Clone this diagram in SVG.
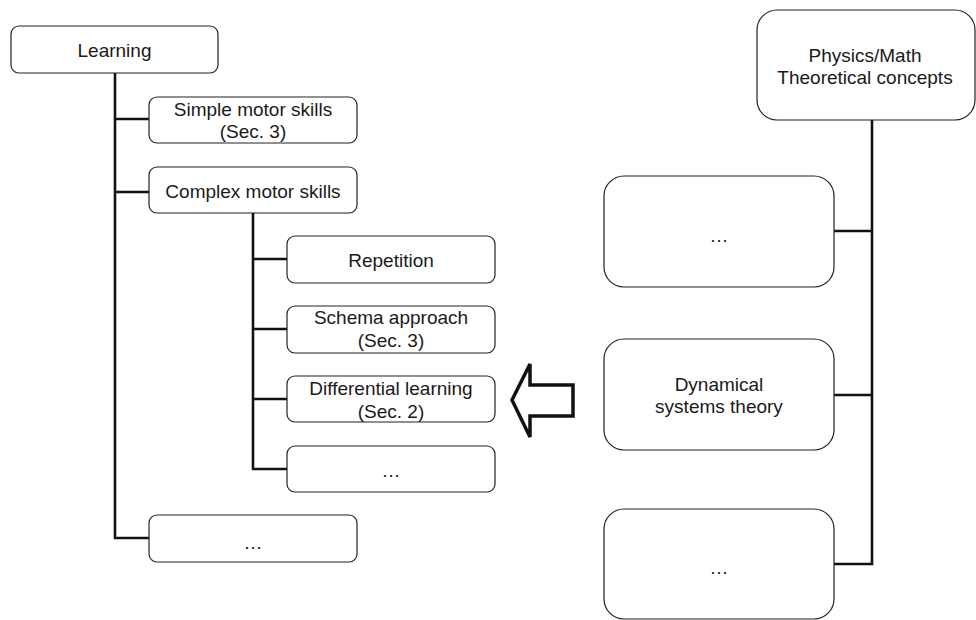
<svg xmlns="http://www.w3.org/2000/svg" width="976" height="620" viewBox="0 0 976 620">
<style>
.box{fill:#fff;stroke:#222;stroke-width:1.2}
.t{font-family:"Liberation Sans",Arial,sans-serif;font-size:19px;fill:#1a1a1a;text-anchor:middle}
.c{fill:none;stroke:#111;stroke-width:2.6}
.arrow{fill:#fff;stroke:#111;stroke-width:3.5;stroke-linejoin:miter}
</style>
<rect width="976" height="620" fill="#fff"/>
<g id="connectors">
<polyline class="c" points="115,73 115,538 149,538"/>
<line class="c" x1="115" y1="119" x2="149" y2="119"/>
<line class="c" x1="115" y1="192" x2="149" y2="192"/>
<polyline class="c" points="253,213 253,469 287,469"/>
<line class="c" x1="253" y1="259" x2="287" y2="259"/>
<line class="c" x1="253" y1="329" x2="287" y2="329"/>
<line class="c" x1="253" y1="399" x2="287" y2="399"/>
<polyline class="c" points="872,120 872,564 834,564"/>
<line class="c" x1="834" y1="231" x2="872" y2="231"/>
<line class="c" x1="834" y1="395" x2="872" y2="395"/>
</g>
<g id="arrow">
<polygon class="arrow" points="512,400 530,364 530,385 573,385 573,416 530,416 530,437"/>
</g>
<g id="learning">
<rect class="box" x="11" y="26" width="207" height="47" rx="8"/>
<text class="t" x="114.5" y="57">Learning</text>
</g>
<g id="simple">
<rect class="box" x="149" y="97" width="208" height="46" rx="8"/>
<text class="t" x="253" y="116">Simple motor skills</text>
<text class="t" x="253" y="138">(Sec. 3)</text>
</g>
<g id="complex">
<rect class="box" x="149" y="167" width="208" height="46" rx="8"/>
<text class="t" x="253" y="198">Complex motor skills</text>
</g>
<g id="repetition">
<rect class="box" x="287" y="236" width="208" height="47" rx="8"/>
<text class="t" x="391" y="267">Repetition</text>
</g>
<g id="schema">
<rect class="box" x="287" y="306" width="208" height="47" rx="8"/>
<text class="t" x="391" y="324">Schema approach</text>
<text class="t" x="391" y="347">(Sec. 3)</text>
</g>
<g id="differential">
<rect class="box" x="287" y="376" width="208" height="46" rx="8"/>
<text class="t" x="391" y="395">Differential learning</text>
<text class="t" x="391" y="418">(Sec. 2)</text>
</g>
<g id="inner-more">
<rect class="box" x="287" y="446" width="208" height="46" rx="8"/>
<text class="t" x="391" y="477">…</text>
</g>
<g id="outer-more">
<rect class="box" x="149" y="515" width="208" height="47" rx="8"/>
<text class="t" x="253" y="549">…</text>
</g>
<g id="physics">
<rect class="box" x="757" y="10" width="218" height="110" rx="20"/>
<text class="t" x="865" y="62">Physics/Math</text>
<text class="t" x="865" y="84">Theoretical concepts</text>
</g>
<g id="right-more-top">
<rect class="box" x="604" y="176" width="230" height="111" rx="20"/>
<text class="t" x="719" y="242">…</text>
</g>
<g id="dynamical">
<rect class="box" x="604" y="339" width="230" height="111" rx="20"/>
<text class="t" x="719" y="391">Dynamical</text>
<text class="t" x="719" y="413">systems theory</text>
</g>
<g id="right-more-bottom">
<rect class="box" x="604" y="509" width="230" height="110" rx="20"/>
<text class="t" x="719" y="574">…</text>
</g>
</svg>
